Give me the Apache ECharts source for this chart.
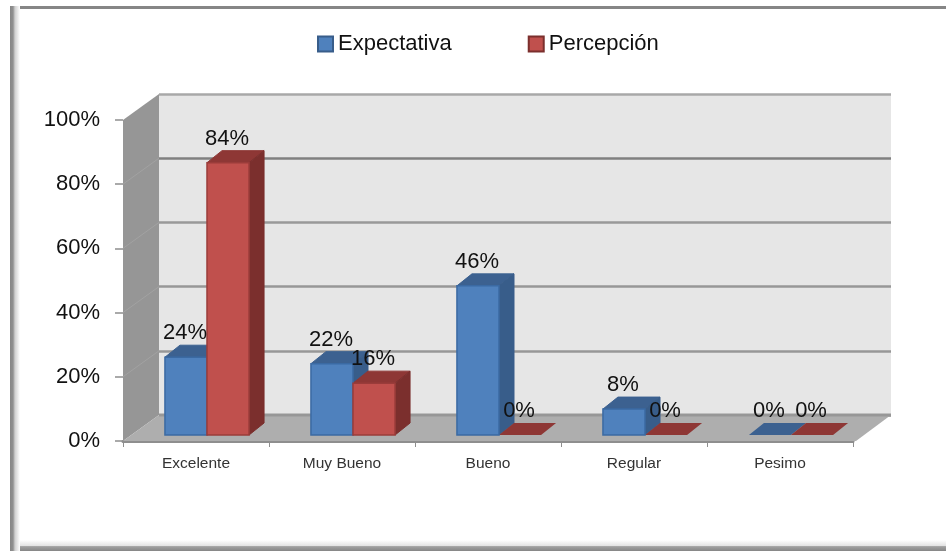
<!DOCTYPE html>
<html><head><meta charset="utf-8">
<style>html,body{margin:0;padding:0;background:#fff}#c{width:946px;height:551px}</style>
<script src="https://cdn.jsdelivr.net/npm/echarts@6/dist/echarts.min.js"></script>
</head><body><div id="c"></div>
<script>
const categories = ['Excelente','Muy Bueno','Bueno','Regular','Pesimo'];
const expectativa = [24,22,46,8,0];
const percepcion = [84,16,0,0,0];
const yTicks = [0,20,40,60,80,100];

const FONT = '"Liberation Sans", Arial, sans-serif';
const WALL = {dx:36, dy:-26};
const BAR = {dx:11, dy:-6, depthX:15, depthY:-12, widthFrac:0.288, scale:1.01};

function sceneItem(params, api){
  const r = params.coordSys;
  const L=r.x, R=r.x+r.width, T=r.y, B=r.y+r.height;
  const kids = [
    {type:'polygon', shape:{points:[[L,T],[L+WALL.dx,T+WALL.dy],[L+WALL.dx,B+WALL.dy],[L,B]]}, style:{fill:'#969696'}},
    {type:'polygon', shape:{points:[[L,B],[L+WALL.dx,B+WALL.dy],[R+WALL.dx+2,B+WALL.dy],[R+3,B]]}, style:{fill:'#aeaeae'}},
    {type:'line', shape:{x1:L+WALL.dx,y1:B+WALL.dy,x2:R+WALL.dx+2,y2:B+WALL.dy}, style:{stroke:'#979797',lineWidth:3}}
  ];
  yTicks.forEach(function(t){
    const y = api.coord([0,t])[1];
    if(t>0 && t<100) kids.push({type:'line', shape:{x1:L,y1:y,x2:L+WALL.dx,y2:y+WALL.dy}, style:{stroke:'#a2a2a2',lineWidth:1}});
  });
  return {type:'group', children:kids};
}

function barRenderer(seriesIdx, cols){
  return function(params, api){
    const idx = api.value(0), v = api.value(1);
    const c = api.coord([idx,0]);
    const yv = api.coord([idx,v])[1];
    const w = api.size([1,0])[0]*BAR.widthFrac;
    const x0 = c[0]+BAR.dx+(seriesIdx===0?-w:0);
    const x1 = x0+w;
    const yb = c[1]+BAR.dy;
    const yt = yb-(c[1]-yv)*BAR.scale;
    const dx=BAR.depthX, dy=BAR.depthY;
    const kids = [];
    kids.push({type:'polygon', z2:1, shape:{points:[[x0,yt],[x0+dx,yt+dy],[x1+dx,yt+dy],[x1,yt]]}, style:{fill:cols.top,stroke:v>0?cols.top:null,lineWidth:1}});
    if(v>0){
      kids.push({type:'polygon', z2:1, shape:{points:[[x1,yt],[x1+dx,yt+dy],[x1+dx,yb+dy],[x1,yb]]}, style:{fill:cols.side,stroke:cols.side,lineWidth:1}});
      kids.push({type:'rect', z2:2, shape:{x:x0,y:yt,width:w,height:yb-yt}, style:{fill:cols.front,stroke:cols.edge,lineWidth:1.5}});
    }
    kids.push({type:'text', z2:100, x:(x0+x1)/2-1, y:yt-24, style:{text:v+'%',fill:'#111',font:'22px '+FONT,textAlign:'center',verticalAlign:'middle'}});
    return {type:'group', children:kids};
  };
}

const blueCols = {front:'#4f81bd',side:'#385d8a',top:'#3c6190',edge:'#3b6aa3'};
const redCols = {front:'#c0504d',side:'#7b2f2d',top:'#8e3735',edge:'#9a3c3a'};

const grad = (x,y,x2,y2,stops)=>({type:'linear',x,y,x2,y2,colorStops:stops});

const chart = echarts.init(document.getElementById('c'),null,{renderer:'canvas'});
chart.setOption({
  animation:false,
  backgroundColor:'#fff',
  textStyle:{fontFamily:FONT},
  legend:{
    data:['Expectativa','Percepción'], left:312, top:28, itemWidth:15, itemHeight:15, itemGap:76,
    textStyle:{fontFamily:FONT,fontSize:22,color:'#111'}, icon:'rect'
  },
  grid:[
    {left:123,top:120,width:730,height:321,show:false},
    {left:159,top:94,width:732,height:321,show:true,backgroundColor:'#e6e6e6',borderWidth:0}
  ],
  xAxis:[
    {type:'category',gridIndex:0,data:categories,
      axisLine:{show:true,lineStyle:{color:'#8e8e8e',width:3}},
      axisTick:{show:true,alignWithLabel:false,length:6,lineStyle:{color:'#8e8e8e',width:1}},
      axisLabel:{fontSize:15.5,color:'#333',margin:15,fontFamily:FONT},
      splitLine:{show:false}},
    {type:'category',gridIndex:1,data:categories,show:false}
  ],
  yAxis:[
    {type:'value',gridIndex:0,min:0,max:100,interval:20,
      axisLine:{show:false},
      axisTick:{show:true,length:8,lineStyle:{color:'#8e8e8e',width:1.5}},
      axisLabel:{formatter:'{value}%',fontSize:22,color:'#111',margin:23,padding:[4,0,0,0],fontFamily:FONT},
      splitLine:{show:false}},
    {type:'value',gridIndex:1,min:0,max:100,interval:20,
      axisLine:{show:false},axisTick:{show:false},axisLabel:{show:false},
      splitLine:{show:true,lineStyle:{color:['#979797','#979797','#979797','#999999','#808080','#a8a8a8'],width:2.5}}}
  ],
  series:[
    {type:'custom',name:'scene',xAxisIndex:0,yAxisIndex:0,silent:true,z:1,data:[[0,0]],renderItem:sceneItem,clip:false},
    {type:'custom',name:'Expectativa',xAxisIndex:0,yAxisIndex:0,z:2,clip:false,
      itemStyle:{color:blueCols.front,borderColor:blueCols.side,borderWidth:2},
      encode:{x:0,y:1},data:expectativa.map((v,i)=>[i,v]),renderItem:barRenderer(0,blueCols)},
    {type:'custom',name:'Percepción',xAxisIndex:0,yAxisIndex:0,z:2,clip:false,
      itemStyle:{color:redCols.front,borderColor:redCols.side,borderWidth:2},
      encode:{x:0,y:1},data:percepcion.map((v,i)=>[i,v]),renderItem:barRenderer(1,redCols)}
  ],
  graphic:[
    {type:'rect',z:100,silent:true,shape:{x:10,y:6,width:936,height:3},style:{fill:'#868686'}},
    {type:'rect',z:100,silent:true,shape:{x:10,y:6,width:10,height:545},
      style:{fill:grad(0,0,1,0,[{offset:0,color:'#868686'},{offset:0.3,color:'#909090'},{offset:0.5,color:'#d0d0d0'},{offset:1,color:'#ffffff'}])}},
    {type:'rect',z:99,silent:true,shape:{x:10,y:540,width:936,height:11},
      style:{fill:grad(0,0,0,1,[{offset:0,color:'#ffffff'},{offset:0.5,color:'#e4e4e4'},{offset:0.6,color:'#a0a0a0'},{offset:1,color:'#868686'}])}}
  ]
});
</script></body></html>
